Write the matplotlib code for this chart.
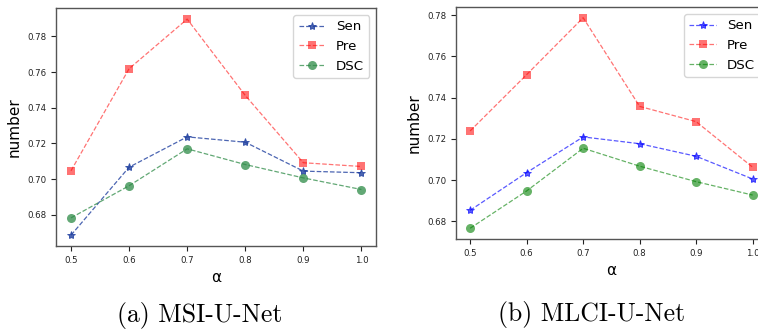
import matplotlib
matplotlib.use("Agg")
import matplotlib.pyplot as plt

alpha_vals = [0.5, 0.6, 0.7, 0.8, 0.9, 1.0]
x_ticks = [0.5, 0.6, 0.7, 0.8, 0.9, 1.0]
labels = ["Sen", "Pre", "DSC"]

# (a) MSI-U-Net
sen_a = [0.6686, 0.7067, 0.7237, 0.7207, 0.7045, 0.7036]
pre_a = [0.7047, 0.7619, 0.7897, 0.7469, 0.7092, 0.7071]
dsc_a = [0.6783, 0.6963, 0.7170, 0.7082, 0.7007, 0.6942]

# (b) MLCI-U-Net
sen_b = [0.6853, 0.7036, 0.7209, 0.7176, 0.7115, 0.7005]
pre_b = [0.7238, 0.7511, 0.7787, 0.7357, 0.7283, 0.7062]
dsc_b = [0.6766, 0.6947, 0.7154, 0.7067, 0.6992, 0.6927]

captions = ["(a) MSI-U-Net", "(b) MLCI-U-Net"]

fig = plt.figure(figsize=(7.58, 3.36), dpi=100)
ax1 = fig.add_axes([0.0745, 0.2679, 0.4215, 0.7074])
ax2 = fig.add_axes([0.6016, 0.2893, 0.4100, 0.6893])

styles_a = [("#1f3f9f", 0.8), ("red", 0.55), ("#2e8b47", 0.75)]
styles_b = [("#0000ff", 0.65), ("red", 0.55), ("green", 0.6)]
markers = ["*", "s", "o"]
msizes = [6.0, 6.0, 6.5]
medges = [0.7, 0, 0]

for ax, series, styles in [(ax1, [sen_a, pre_a, dsc_a], styles_a),
                           (ax2, [sen_b, pre_b, dsc_b], styles_b)]:
    for vals, lab, (c, a), m, ms, me in zip(series, labels, styles, markers, msizes, medges):
        ax.plot(alpha_vals, vals, linestyle="--", marker=m, color=c, alpha=a,
                markersize=ms, markeredgewidth=me, linewidth=0.9, label=lab)
    ax.set_xticks(x_ticks)
    ax.set_xticklabels([f"{v:.1f}" for v in x_ticks])
    ax.tick_params(labelsize=6.2, colors="#222222")
    ax.set_xlabel("α", fontsize=11)
    ax.set_ylabel("number", fontsize=11)
    for s in ax.spines.values():
        s.set_color("#555555")
        s.set_linewidth(1.0)
    ax.legend(loc="upper right", fontsize=9.6)

fig.text(199.5 / 758, (336 - 321.7) / 336, captions[0], ha="center",
         va="baseline", fontsize=18.5, family="cmr10")
fig.text(591.7 / 758, (336 - 321.0) / 336, captions[1], ha="center",
         va="baseline", fontsize=18.5, family="cmr10")

fig.savefig("out.png", dpi=100)
